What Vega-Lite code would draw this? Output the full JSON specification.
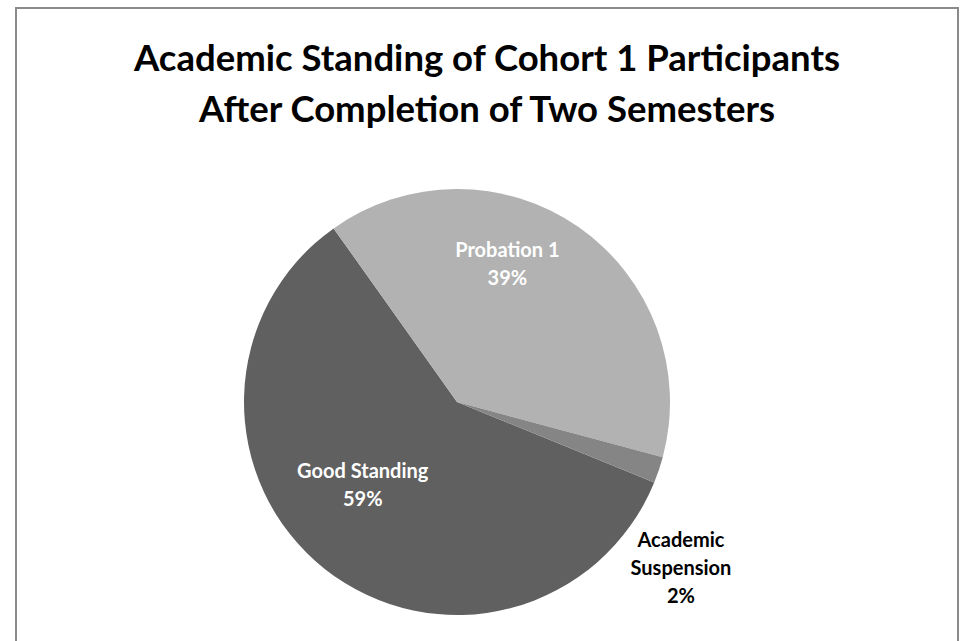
{
  "$schema": "https://vega.github.io/schema/vega-lite/v6.json",
  "width": 942,
  "height": 635,
  "autosize": {"type": "none"},
  "padding": {"left": 16, "top": 8, "right": 8, "bottom": -2},
  "background": "white",
  "view": {"stroke": "#8a8a8a", "strokeWidth": 2, "fill": "white"},
  "config": {"view": {"stroke": "#8a8a8a", "strokeWidth": 2}, "font": "Lato"},
  "title": {
    "text": ["Academic Standing of Cohort 1 Participants", "After Completion of Two Semesters"],
    "font": "Lato",
    "fontSize": 36.5,
    "fontWeight": "bold",
    "color": "#000000",
    "anchor": "middle",
    "frame": "group",
    "orient": "top",
    "offset": -121,
    "lineHeight": 51
  },
  "data": {
    "values": [
      {"category": "Good Standing", "percent": 59, "label": "Good Standing\n59%"},
      {"category": "Probation 1", "percent": 39, "label": "Probation 1\n39%"},
      {"category": "Academic Suspension", "percent": 2, "label": "Academic\nSuspension\n2%"}
    ]
  },
  "encoding": {
    "theta": {"field": "percent", "type": "quantitative", "stack": true, "scale": {"range": [1.8326, 8.1158]}},
    "order": {"field": "category", "sort": "ascending"}
  },
  "layer": [
    {
      "mark": {"type": "arc", "outerRadius": 213, "xOffset": -30, "yOffset": 76.5},
      "encoding": {
        "color": {
          "field": "category",
          "type": "nominal",
          "scale": {"domain": ["Good Standing", "Probation 1", "Academic Suspension"], "range": ["#606060", "#b2b2b2", "#858585"]},
          "legend": null
        }
      }
    },
    {
      "mark": {"type": "text", "radius": 139, "xOffset": -59, "yOffset": 39.5, "font": "Lato", "fontSize": 20, "fontWeight": "bold", "color": "#ffffff", "lineBreak": "\n", "lineHeight": 28, "align": "center", "baseline": "middle"},
      "encoding": {
        "text": {"field": "label", "type": "nominal"},
        "opacity": {"condition": {"test": "datum.category == 'Probation 1'", "value": 1}, "value": 0}
      }
    },
    {
      "mark": {"type": "text", "radius": 126, "xOffset": -46, "yOffset": 47.5, "font": "Lato", "fontSize": 20, "fontWeight": "bold", "color": "#ffffff", "lineBreak": "\n", "lineHeight": 28, "align": "center", "baseline": "middle"},
      "encoding": {
        "text": {"field": "label", "type": "nominal"},
        "opacity": {"condition": {"test": "datum.category == 'Good Standing'", "value": 1}, "value": 0}
      }
    },
    {
      "mark": {"type": "text", "radius": 250, "xOffset": -43, "yOffset": 136, "font": "Lato", "fontSize": 20, "fontWeight": "bold", "color": "#000000", "lineBreak": "\n", "lineHeight": 28, "align": "center", "baseline": "middle"},
      "encoding": {
        "text": {"field": "label", "type": "nominal"},
        "opacity": {"condition": {"test": "datum.category == 'Academic Suspension'", "value": 1}, "value": 0}
      }
    }
  ]
}
